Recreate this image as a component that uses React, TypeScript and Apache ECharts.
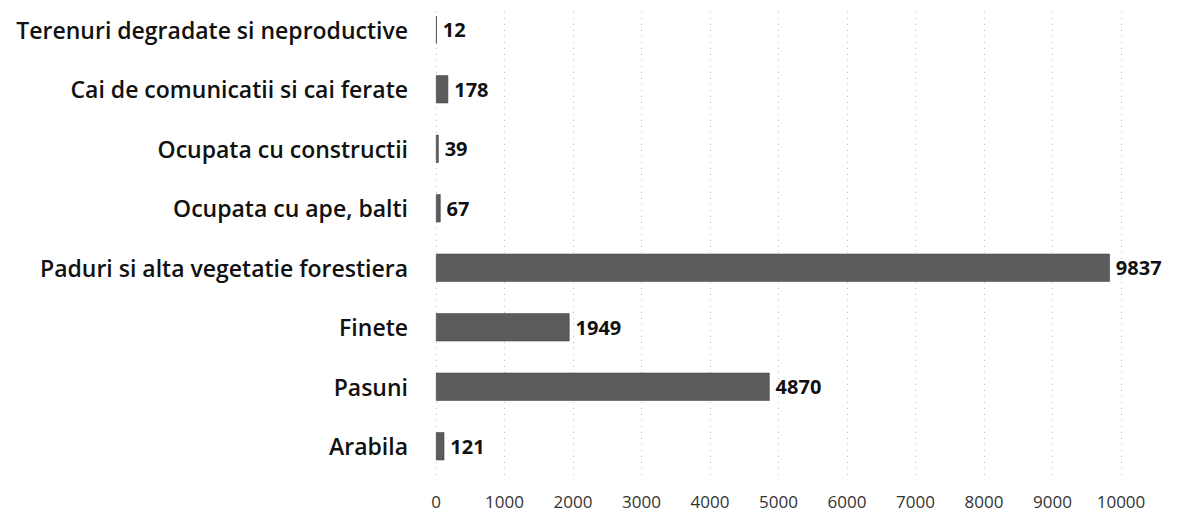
import React, { useEffect, useRef } from "react";
import * as echarts from "echarts";

const categories = [
  "Arabila",
  "Pasuni",
  "Finete",
  "Paduri si alta vegetatie forestiera",
  "Ocupata cu ape, balti",
  "Ocupata cu constructii",
  "Cai de comunicatii si cai ferate",
  "Terenuri degradate si neproductive",
];
const values = [121, 4870, 1949, 9837, 67, 39, 178, 12];
const axisMin = 0;
const axisMax = 10000;
const axisInterval = 1000;

export default function App() {
  const ref = useRef<HTMLDivElement>(null);
  useEffect(() => {
    if (!ref.current) return;
    const chart = echarts.init(ref.current, null, { renderer: "svg" });
    chart.setOption({
      animation: false,
      backgroundColor: "#ffffff",
      grid: { left: 436, right: 58, top: -2, height: 478, containLabel: false },
      xAxis: {
        type: "value",
        min: axisMin,
        max: axisMax,
        interval: axisInterval,
        axisLine: { show: false },
        axisTick: { show: false },
        axisLabel: {
          color: "#333",
          fontFamily: "Open Sans",
          fontSize: 17,
          margin: 17,
          formatter: (v: number) => String(v),
        },
        splitLine: { show: true, lineStyle: { color: "#c0c0c0", type: [1, 5], width: 1 } },
      },
      yAxis: {
        type: "category",
        data: categories,
        axisLine: { show: false },
        axisTick: { show: false },
        axisLabel: {
          color: "#111",
          fontFamily: "Open Sans",
          fontWeight: 600,
          fontSize: 23,
          margin: 28,
        },
      },
      series: [
        {
          type: "bar",
          data: values,
          barWidth: 28,
          itemStyle: { color: "#5c5c5c", borderColor: "#3a3a3a", borderWidth: 0.5 },
          label: {
            show: true,
            position: "right",
            distance: 6,
            color: "#111",
            fontFamily: "Open Sans",
            fontWeight: "bold",
            fontSize: 20,
          },
        },
      ],
    });
    return () => chart.dispose();
  }, []);
  return <div ref={ref} style={{ width: 1179, height: 517, margin: -8 }} />;
}
